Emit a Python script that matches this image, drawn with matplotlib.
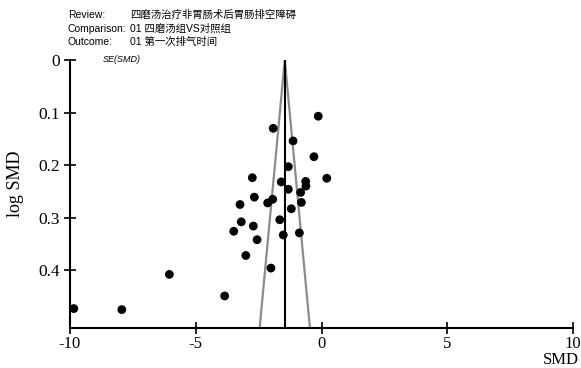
"""
Funnel plot (RevMan style): 四磨汤 vs 对照组, 第一次排气时间.
"""

import matplotlib
matplotlib.use('Agg')
import matplotlib.pyplot as plt
import numpy as np

# Study effects
smd = [-0.13, -1.92, -1.13, -0.30, -1.32, -2.75, -1.60, -0.63, 0.21, -0.62,
       -1.32, -0.83, -2.67, -1.94, -2.14, -0.80, -3.24, -1.20, -1.66, -3.19,
       -2.71, -3.49, -2.56, -1.52, -0.88, -3.01, -2.01, -6.05, -3.85, -9.85,
       -7.94]
se = [0.107, 0.130, 0.154, 0.184, 0.203, 0.224, 0.232, 0.231, 0.225, 0.240,
      0.246, 0.252, 0.261, 0.265, 0.272, 0.271, 0.275, 0.283, 0.304, 0.308,
      0.316, 0.326, 0.342, 0.333, 0.329, 0.372, 0.396, 0.408, 0.449, 0.473,
      0.475]

pooled = -1.46
se_max = 0.51
x_ticks = [-10, -5, 0, 5, 10]
y_ticks = [0, 0.1, 0.2, 0.3, 0.4]

header_keys = ['Review:', 'Comparison:', 'Outcome:']
header_vals = ['四磨汤治疗非胃肠术后胃肠排空障碍', '01 四磨汤组VS对照组', '01 第一次排气时间']

serif = ['Liberation Serif', 'DejaVu Serif']
cjk = ['Liberation Sans', 'Noto Sans CJK SC', 'DejaVu Sans']

fig = plt.figure(figsize=(5.81, 3.68), dpi=100)
ax = fig.add_axes([70 / 581, 40 / 368, 503 / 581, 268 / 368])

# funnel limits and pooled estimate
ax.plot([pooled - 1.96 * se_max, pooled, pooled + 1.96 * se_max],
        [se_max, 0, se_max], color='#8c8c8c', lw=1.6, zorder=2)
ax.plot([pooled, pooled], [0, se_max], color='black', lw=1.5, zorder=3)

ax.scatter(smd, se, s=40, color='black', edgecolors='none', zorder=4, clip_on=False)

ax.set_xlim(-10, 10)
ax.set_ylim(se_max, 0)
ax.set_xticks(x_ticks)
ax.set_yticks(y_ticks)
ax.set_xticklabels([str(t) for t in x_ticks], family=serif, fontsize=12)
ax.set_yticklabels(['0', '0.1', '0.2', '0.3', '0.4'], family=serif, fontsize=12.5)
ax.tick_params(direction='inout', length=8, width=1.2)
ax.tick_params(axis='x', pad=2)
ax.tick_params(axis='y', pad=3)
for side in ['top', 'right']:
    ax.spines[side].set_visible(False)
for side in ['left', 'bottom']:
    ax.spines[side].set_linewidth(1.5)

fig.text(15 / 581, 0.5, 'log SMD', family=serif, fontsize=13, rotation=90,
         ha='center', va='center')
fig.text(561 / 581, 1 - 360 / 368, 'SMD', family=serif, fontsize=12,
         ha='center', va='center')
fig.text(103 / 581, 1 - 60 / 368, 'SE(SMD)', family=cjk, fontsize=6.5,
         style='italic', ha='left', va='center')

for i, (k, v) in enumerate(zip(header_keys, header_vals)):
    y = 1 - (15 + 13.5 * i) / 368
    fig.text(68 / 581, y, k, family=cjk, fontsize=7.5, ha='left', va='center')
    fig.text(130 / 581, y, v, family=cjk, fontsize=7.5, ha='left', va='center')

fig.savefig('out.png', dpi=100)
